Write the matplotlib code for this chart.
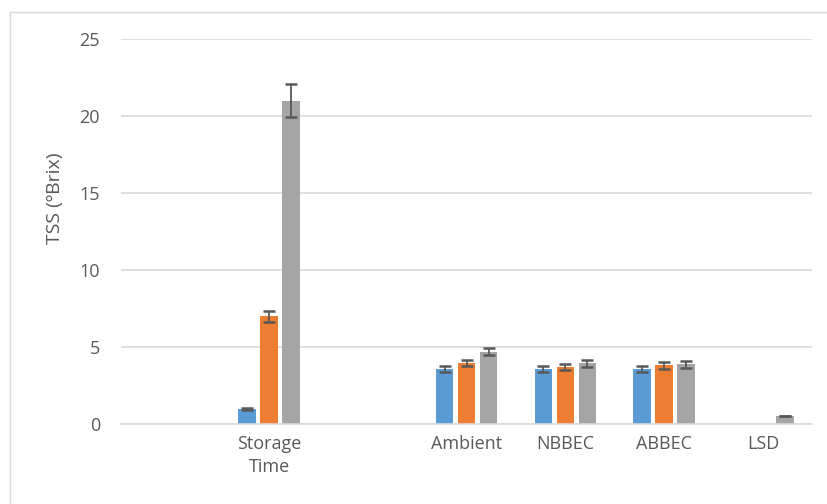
import numpy as np
import matplotlib.pyplot as plt
from matplotlib.lines import Line2D

plt.rcParams['font.family'] = ['Open Sans', 'DejaVu Sans']

# categories along the x axis (blank slots keep the spacing)
categories = ['', 'Storage\nTime', '', 'Ambient', 'NBBEC', 'ABBEC', 'LSD']

# three series, one value per category (nan = no bar)
nan = np.nan
series1 = [nan, 0.97, nan, 3.56, 3.56, 3.56, nan]
series2 = [nan, 7.0, nan, 3.94, 3.68, 3.80, nan]
series3 = [nan, 21.0, nan, 4.70, 3.94, 3.88, 0.52]

err1 = [nan, 0.04, nan, 0.20, 0.20, 0.20, nan]
err2 = [nan, 0.37, nan, 0.20, 0.20, 0.20, nan]
err3 = [nan, 1.05, nan, 0.25, 0.22, 0.22, 0.03]

colors = ['#5b9bd5', '#ed7d31', '#a5a5a5']
grid_col = '#d9d9d9'
text_col = '#595959'

fig = plt.figure(figsize=(8.28, 5.04), dpi=100)
ax = fig.add_axes([0.146, 0.1587, 0.835, 0.7639])

x = np.arange(len(categories))
width = 0.175
step = 0.223
for i, (vals, errs) in enumerate(zip([series1, series2, series3], [err1, err2, err3])):
    ax.bar(x + (i - 1) * step, vals, width, color=colors[i], zorder=2,
           yerr=errs, capsize=4,
           error_kw=dict(ecolor='#595959', elinewidth=1.3, capthick=1.8, zorder=3))

ax.set_xlim(-0.5, 6.5)
ax.set_ylim(0, 25)
ax.set_yticks([0, 5, 10, 15, 20, 25])
ax.set_xticks(x)
ax.set_xticklabels(categories, fontsize=13, color=text_col, linespacing=1.35)
ax.tick_params(axis='y', labelsize=13, labelcolor=text_col, length=0, pad=15)
ax.tick_params(axis='x', length=0, pad=8)
ax.yaxis.grid(True, color=grid_col, linewidth=1.2, zorder=0)
ax.set_axisbelow(True)
for s in ['top', 'right', 'left']:
    ax.spines[s].set_visible(False)
ax.spines['bottom'].set_color(grid_col)
ax.spines['bottom'].set_linewidth(1.2)

ax.set_ylabel('TSS (\u00baBrix)', fontsize=14, color=text_col)
ax.yaxis.set_label_coords(-0.083, 0.587)

# chart area outline
fig.add_artist(Line2D([10 / 828, 1], [1 - 12 / 504, 1 - 12 / 504], color=grid_col, lw=1))
fig.add_artist(Line2D([10 / 828, 10 / 828], [0, 1 - 12 / 504], color=grid_col, lw=1))

fig.savefig('out.png', dpi=100)
